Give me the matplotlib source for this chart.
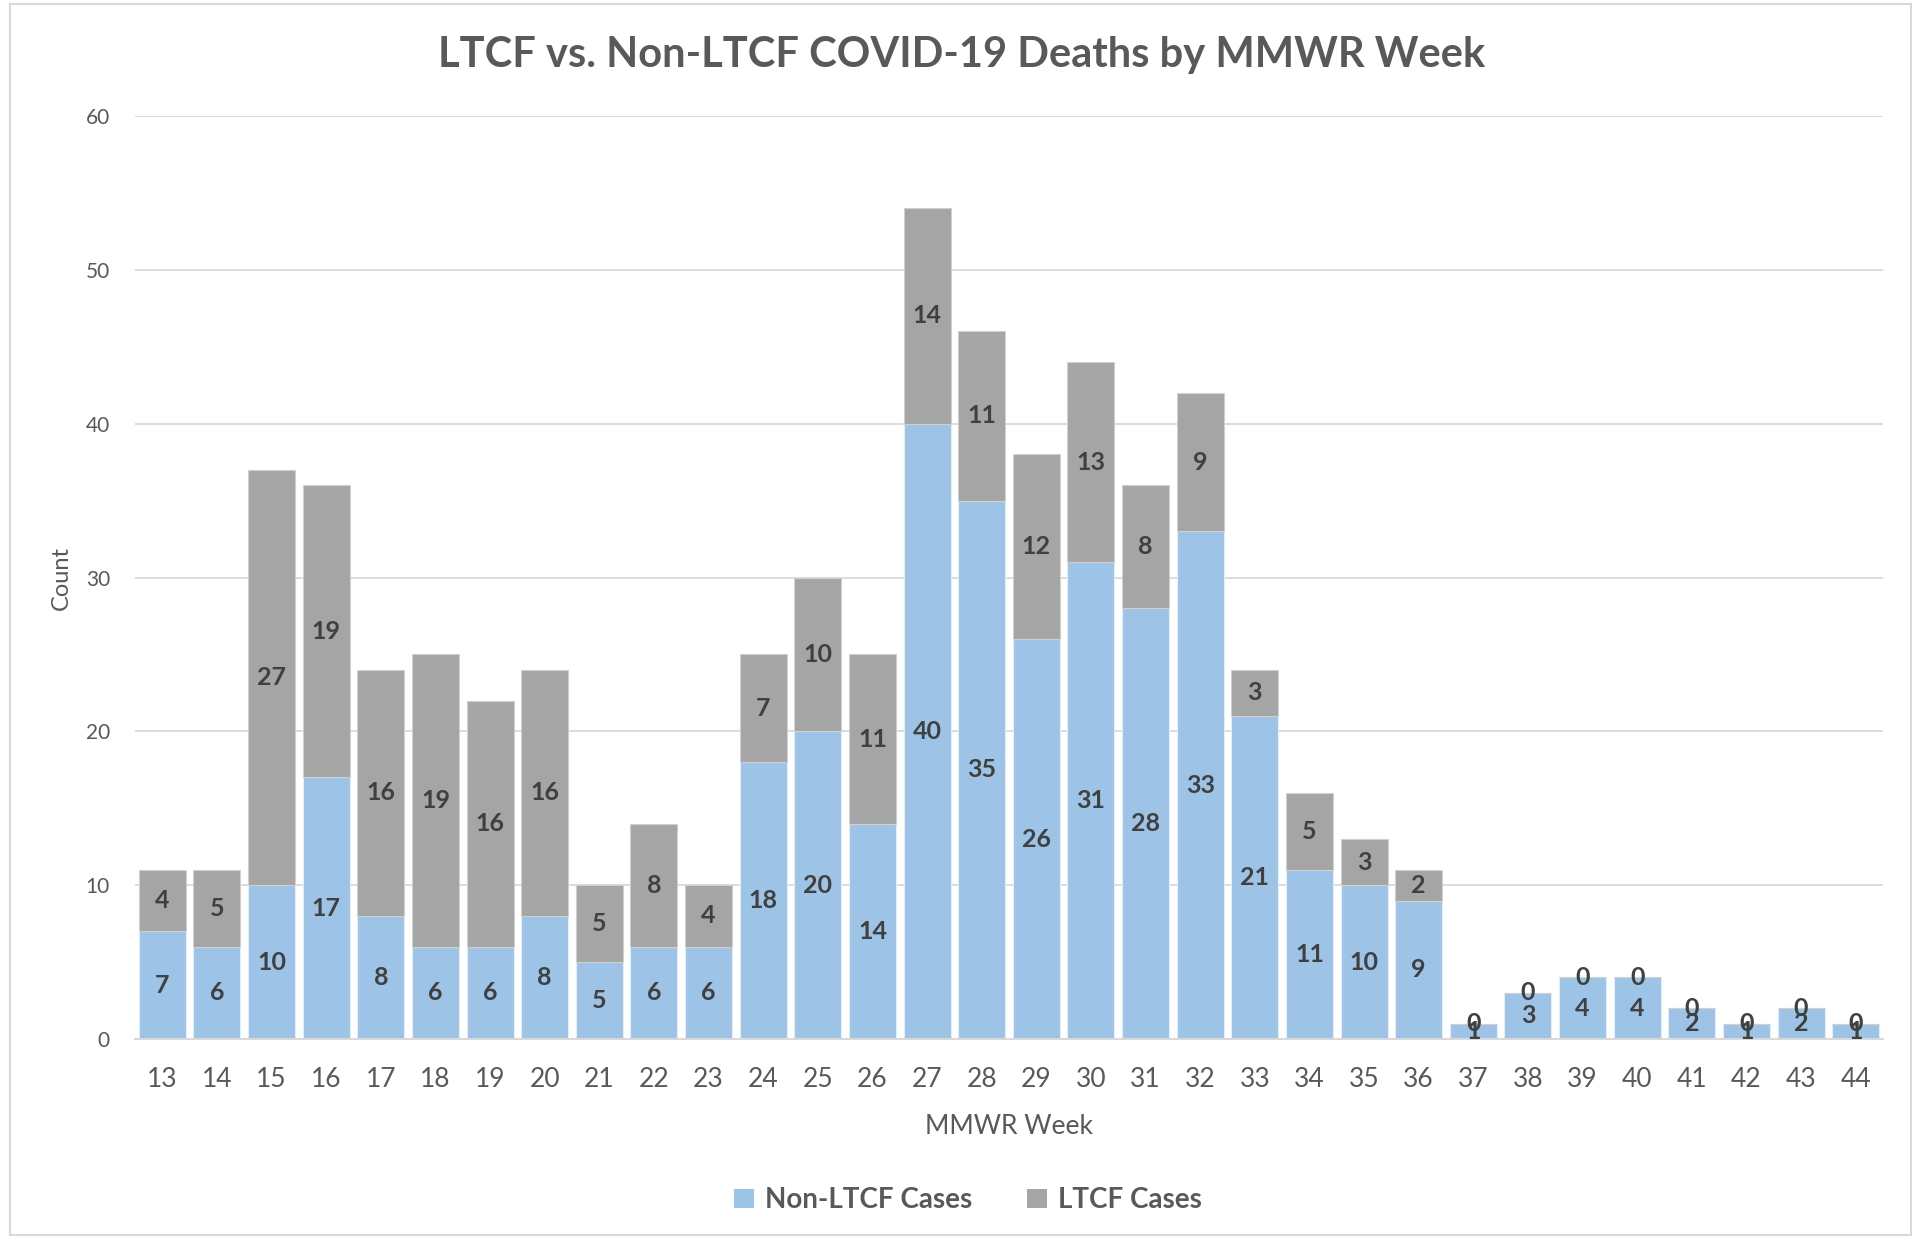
import matplotlib.pyplot as plt
from matplotlib.patches import Rectangle, Patch
import numpy as np

plt.rcParams['font.family'] = ['Lato', 'DejaVu Sans']

weeks = [str(w) for w in range(13, 45)]
non_ltcf = [7, 6, 10, 17, 8, 6, 6, 8, 5, 6, 6, 18, 20, 14, 40, 35,
            26, 31, 28, 33, 21, 11, 10, 9, 1, 3, 4, 4, 2, 1, 2, 1]
ltcf = [4, 5, 27, 19, 16, 19, 16, 16, 5, 8, 4, 7, 10, 11, 14, 11,
        12, 13, 8, 9, 3, 5, 3, 2, 0, 0, 0, 0, 0, 0, 0, 0]

blue = '#9DC3E6'
grey = '#A5A5A5'
txt = '#595959'
lbl = '#404040'

W, H = 1921, 1239
fig = plt.figure(figsize=(W / 100, H / 100), dpi=100)

# chart border
fig.add_artist(Rectangle((10 / W, 4 / H), (1911 - 10) / W, (1235 - 4) / H,
                         transform=fig.transFigure, fill=False,
                         edgecolor='#D9D9D9', linewidth=1.5))

ax = fig.add_axes([135 / W, (H - 1039) / H, (1883 - 135) / W, (1039 - 116) / H])

x = np.arange(len(weeks))
b1 = ax.bar(x, non_ltcf, width=0.86, color=blue, edgecolor='#E4EEF8',
            linewidth=0.8, zorder=2)
b2 = ax.bar(x, ltcf, width=0.86, bottom=non_ltcf, color=grey,
            edgecolor='#D0D0D0', linewidth=0.8, zorder=2)

ax.bar_label(b1, label_type='center', fontsize=18, fontweight='bold', color=lbl)
ax.bar_label(b2, label_type='center', fontsize=18, fontweight='bold', color=lbl)

ax.set_xlim(-0.5, len(weeks) - 0.5)
ax.set_ylim(0, 60)
ax.set_yticks(range(0, 61, 10))
ax.set_xticks(x)
ax.set_xticklabels(weeks)
ax.yaxis.grid(True, color='#D9D9D9', linewidth=1.3, zorder=0)
ax.set_axisbelow(True)

for s in ['top', 'right', 'left']:
    ax.spines[s].set_visible(False)
ax.spines['bottom'].set_color('#D9D9D9')
ax.spines['bottom'].set_linewidth(1.5)

ax.tick_params(axis='both', length=0, labelcolor=txt)
ax.tick_params(axis='y', pad=18, labelsize=15)
ax.tick_params(axis='x', pad=20, labelsize=19)

fig.text(1009 / W, 1 - 1127 / H, 'MMWR Week', ha='center', va='center',
         fontsize=19, color=txt)
fig.text(61 / W, 1 - 578 / H, 'Count', ha='center', va='center',
         rotation=90, fontsize=17, color=txt)
fig.text(962 / W, 1 - 55 / H, 'LTCF vs. Non-LTCF COVID-19 Deaths by MMWR Week',
         ha='center', va='center', fontsize=30, fontweight='bold', color=txt)

handles = [Patch(facecolor=blue), Patch(facecolor=grey)]
leg = fig.legend(handles, ['Non-LTCF Cases', 'LTCF Cases'], loc='center',
                 bbox_to_anchor=(968 / W, 1 - 1200 / H), ncol=2, frameon=False,
                 handlelength=0.7, handleheight=0.7, handletextpad=0.4,
                 columnspacing=2.0, prop={'size': 20, 'weight': 'bold'})
for t in leg.get_texts():
    t.set_color(txt)

fig.savefig('out.png', dpi=100)
